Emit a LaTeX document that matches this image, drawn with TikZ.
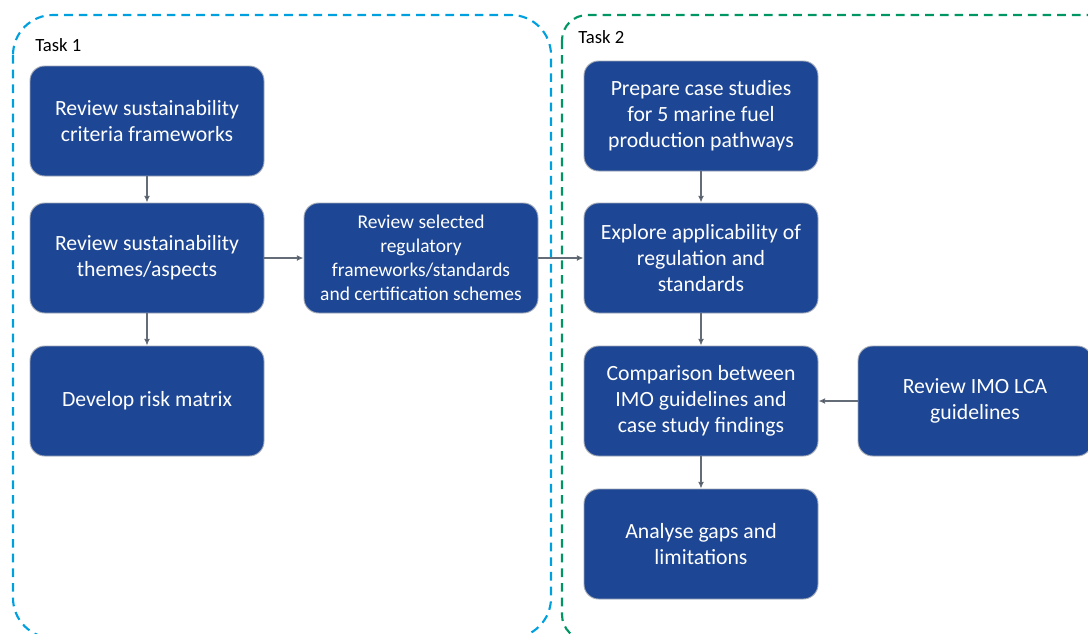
\documentclass[tikz,border=0pt]{standalone}
\usepackage{fontspec}
\setmainfont{Carlito}
\usetikzlibrary{arrows.meta, positioning}

\definecolor{boxblue}{RGB}{29,70,148}
\definecolor{rimgrey}{RGB}{160,168,182}
\definecolor{arrowgrey}{RGB}{100,108,120}
\definecolor{taskone}{RGB}{0,160,222}
\definecolor{tasktwo}{RGB}{0,150,100}

\tikzset{
    stage/.style={draw=rimgrey, line width=0.7pt, fill=boxblue, text=white, rounded corners=11pt,
        minimum width=175.5pt, minimum height=82.5pt, inner sep=0pt, align=center,
        font=\fontsize{16.3}{19.5}\selectfont},
    smallstage/.style={stage, font=\fontsize{14.6}{18}\selectfont},
    flow/.style={draw=arrowgrey, line width=1pt, -{Latex[length=5pt,width=4.5pt]}},
    taskframe/.style={dashed, line width=1.6pt, dash pattern=on 6.5pt off 4.5pt},
    tasklabel/.style={anchor=west, inner sep=0pt, font=\fontsize{14}{16}\selectfont}
}

\begin{document}
\begin{tikzpicture}[x=0.75pt, y=-0.75pt]
        \clip (0,0) rectangle (1088,633);

        % task frames
        \draw[taskframe, draw=taskone, rounded corners=30pt] (13,15) rectangle (551,638);
        \draw[taskframe, draw=tasktwo, rounded corners=19pt] (562,15) rectangle (1120,640);
        \node[tasklabel] (t1) at (35,45) {Task 1};
        \node[tasklabel] (t2) at (578,37) {Task 2};

        % task 1
        \node[stage] (a1) at (147,121) {Review sustainability\\criteria frameworks};
        \node[stage] (a2) [below of = a1, node distance=102.75pt] {Review sustainability\\themes/aspects};
        \node[stage] (a3) [below of = a2, node distance=107.25pt] {Develop risk matrix};
        \node[smallstage] (b) [right of = a2, node distance=205.5pt] {Review selected\\regulatory\\frameworks/standards\\and certification schemes};

        % task 2
        \node[stage] (c1) at (701,116) {Prepare case studies\\for 5 marine fuel\\production pathways};
        \node[stage] (c2) at (701,258) {Explore applicability of\\regulation and\\standards};
        \node[stage] (c3) [below of = c2, node distance=107.25pt] {Comparison between\\IMO guidelines and\\case study findings};
        \node[stage] (c4) [below of = c3, node distance=107.25pt] {Analyse gaps and\\limitations};
        \node[stage] (d) [right of = c3, node distance=205.5pt] {Review IMO LCA\\guidelines};

        \path[flow] (a1) edge (a2)
            (a2) edge (a3) edge (b)
            (b) edge (c2)
            (c1) edge (c2)
            (c2) edge (c3)
            (c3) edge (c4)
            (d) edge (c3);
\end{tikzpicture}
\end{document}
